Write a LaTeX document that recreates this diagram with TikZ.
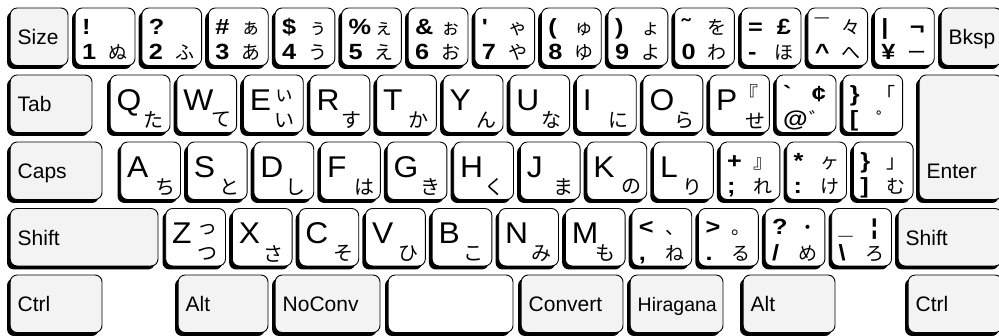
\documentclass[tikz,border=0pt]{standalone}
\usepackage{fontspec}
\setmainfont{Liberation Sans}
\newfontfamily\symfont{Liberation Sans}[Ligatures=TeXOff,FakeStretch=1.15]
\newfontfamily\bigfont{Liberation Sans}[FakeStretch=1.06]
\newfontfamily\jpfont{Noto Sans CJK JP}
\usetikzlibrary{shadows}
\definecolor{keygray}{RGB}{243,243,243}
\newcommand\lbf{\symfont\bfseries\fontsize{22}{22}\selectfont}
\tikzset{
  keybase/.style={draw=black, line width=0.9pt, rounded corners=7pt, inner sep=0pt,
    drop shadow={shadow xshift=-3.2pt, shadow yshift=-3.5pt, fill=black, opacity=1}},
  lightkey/.style={keybase, fill=white},
  graykey/.style={keybase, fill=keygray},
  modlabel/.style={anchor=base west, inner sep=0pt},
  biglabel/.style={anchor=base west, inner sep=0pt, font=\bigfont\fontsize{30}{30}\selectfont},
  kanalabel/.style={anchor=center, inner sep=0pt, font=\jpfont\fontsize{20}{20}\selectfont},
  symlabel/.style={anchor=base west, inner sep=0pt, font=\lbf},
  skana/.style={anchor=base, inner sep=0pt, font=\jpfont\fontsize{19}{19}\selectfont},
}
% name, style, L, T, R, H
\newcommand\kcap[6]{\node[#2, minimum width={(#5)-(#3)-3.2}, minimum height=#6] (#1) at ({((#3)+3.2+(#5))/2},{(#4)+(#6)/2}) {};}
% name L T R fontsize label
\newcommand\modk[6]{\kcap{#1}{graykey}{#2}{#3}{#4}{57.5}%
  \node[modlabel, font=\fontsize{#5}{#5}\selectfont] (#1-l) at ({(#2)+10.5},{(#3)+37}) {#6};}
% name L T letter kana dx
\newcommand\letk[6]{\kcap{#1}{lightkey}{#2}{#3}{(#2)+63}{57.5}%
  \node[biglabel] (#1-a) at ({(#2)+9.5},{(#3)+35.5}) {#4};%
  \node[kanalabel] (#1-k) at ({(#2)+#6},{(#3)+45}) {#5};}
% name L T letter topkana botkana
\newcommand\letkk[6]{\kcap{#1}{lightkey}{#2}{#3}{(#2)+63}{57.5}%
  \node[biglabel] (#1-a) at ({(#2)+9.5},{(#3)+35.5}) {#4};%
  \node[kanalabel] (#1-t) at ({(#2)+44.5},{(#3)+21}) {#5};%
  \node[kanalabel] (#1-k) at ({(#2)+44.5},{(#3)+46}) {#6};}
% name L T TL BL TR BR
\newcommand\symk[7]{\kcap{#1}{lightkey}{#2}{#3}{(#2)+63}{57.5}%
  \node[symlabel] (#1-tl) at ({(#2)+10},{(#3)+26.5}) {#4};%
  \node[symlabel] (#1-bl) at ({(#2)+10},{(#3)+52}) {#5};%
  \node[skana] (#1-tr) at ({(#2)+46},{(#3)+26.5}) {#6};%
  \node[skana] (#1-br) at ({(#2)+46},{(#3)+52}) {#7};}
\begin{document}
\begin{tikzpicture}[x=1pt,y=-1pt]
\useasboundingbox (0,0) rectangle (999,336);
% ---------- row 1 ----------
\modk{size}{7}{8}{68}{21}{Size}
\symk{k1}{72}{8}{!}{1}{}{ぬ}
\symk{k2}{138.6}{8}{?}{2}{}{ふ}
\symk{k3}{205.2}{8}{\#}{3}{ぁ}{あ}
\symk{k4}{271.8}{8}{\$}{4}{ぅ}{う}
\symk{k5}{338.4}{8}{\%}{5}{ぇ}{え}
\symk{k6}{405}{8}{\&}{6}{ぉ}{お}
\symk{k7}{471.6}{8}{'}{7}{ゃ}{や}
\symk{k8}{538.2}{8}{(}{8}{ゅ}{ゆ}
\symk{k9}{604.8}{8}{)}{9}{ょ}{よ}
\symk{k0}{671.4}{8}{˜}{0}{を}{わ}
\symk{kminus}{738}{8}{=}{-}{{\lbf £}}{ほ}
\symk{kcaret}{804.6}{8}{¯}{\char"5E}{々}{へ}
\symk{kyen}{871.2}{8}{|}{¥}{{\lbf ¬}}{ー}
\modk{bksp}{938}{8}{1002}{21}{Bksp}
% ---------- row 2 ----------
\modk{tab}{7}{75}{92}{21}{Tab}
\letk{kq}{107}{75}{Q}{た}{46}
\letk{kw}{173.6}{75}{W}{て}{47.5}
\letkk{ke}{240.2}{75}{E}{ぃ}{い}
\letk{kr}{306.8}{75}{R}{す}{45}
\letk{kt}{373.4}{75}{T}{か}{45}
\letk{ky}{440}{75}{Y}{ん}{46.5}
\letk{ku}{506.6}{75}{U}{な}{44.5}
\letk{ki}{573.2}{75}{I}{に}{45.5}
\letk{ko}{639.8}{75}{O}{ら}{45}
\kcap{kp}{lightkey}{706.4}{75}{769.4}{57.5}
\node[biglabel] (kp-a) at (715.9,110.5) {P};
\node[kanalabel] (kp-t) at (748,93) {『};
\node[kanalabel] (kp-k) at (755,121) {せ};
\symk{kat}{773}{75}{`}{@}{{\lbf ¢}}{゛}
\symk{kbra}{839.6}{75}{\}}{[}{「}{゜}
\kcap{enter}{graykey}{916}{75}{1002}{124.5}
\node[modlabel, font=\fontsize{21}{21}\selectfont] (enter-l) at (926.5,179) {Enter};
% ---------- row 3 ----------
\modk{caps}{7}{142}{102}{21}{Caps}
\letk{ka}{117.5}{142}{A}{ち}{47.5}
\letk{ks}{184.1}{142}{S}{と}{45}
\letk{kd}{250.7}{142}{D}{し}{44.5}
\letk{kf}{317.3}{142}{F}{は}{47.5}
\letk{kg}{383.9}{142}{G}{き}{46.5}
\letk{kh}{450.5}{142}{H}{く}{44}
\letk{kj}{517.1}{142}{J}{ま}{46.5}
\letk{kk}{583.7}{142}{K}{の}{47.5}
\letk{kl}{650.3}{142}{L}{り}{42}
\symk{ksemi}{716.9}{142}{+}{;}{』}{れ}
\symk{kcolon}{783.5}{142}{*}{:}{ヶ}{け}
\symk{kket}{850.1}{142}{\}}{]}{」}{む}
% ---------- row 4 ----------
\modk{lshift}{7}{208.5}{158}{21}{Shift}
\letkk{kz}{162.5}{208.5}{Z}{っ}{つ}
\letk{kx}{229.1}{208.5}{X}{さ}{44}
\letk{kc}{295.7}{208.5}{C}{そ}{47.5}
\letk{kv}{362.3}{208.5}{V}{ひ}{46.5}
\letk{kb}{428.9}{208.5}{B}{こ}{45}
\letk{kn}{495.5}{208.5}{N}{み}{46}
\letk{km}{562.1}{208.5}{M}{も}{43.5}
\symk{kcomma}{628.7}{208.5}{<}{,}{、}{ね}
\symk{kdot}{695.3}{208.5}{>}{.}{。}{る}
\symk{kslash}{761.9}{208.5}{?}{/}{・}{め}
\symk{kbsl}{828.5}{208.5}{\_}{\textbackslash}{{\lbf ¦}}{ろ}
\modk{rshift}{895}{208.5}{1002}{21}{Shift}
% ---------- row 5 ----------
\modk{lctrl}{7}{275}{102}{21}{Ctrl}
\modk{lalt}{175}{275}{268}{21}{Alt}
\modk{noconv}{272}{275}{380}{21}{NoConv}
\kcap{space}{lightkey}{385}{275}{513}{57.5}
\modk{convert}{518}{275}{623}{21}{Convert}
\modk{hira}{627}{275}{723}{19.5}{Hiragana}
\modk{ralt}{740}{275}{835}{21}{Alt}
\modk{rctrl}{905}{275}{1002}{21}{Ctrl}
\end{tikzpicture}
\end{document}
